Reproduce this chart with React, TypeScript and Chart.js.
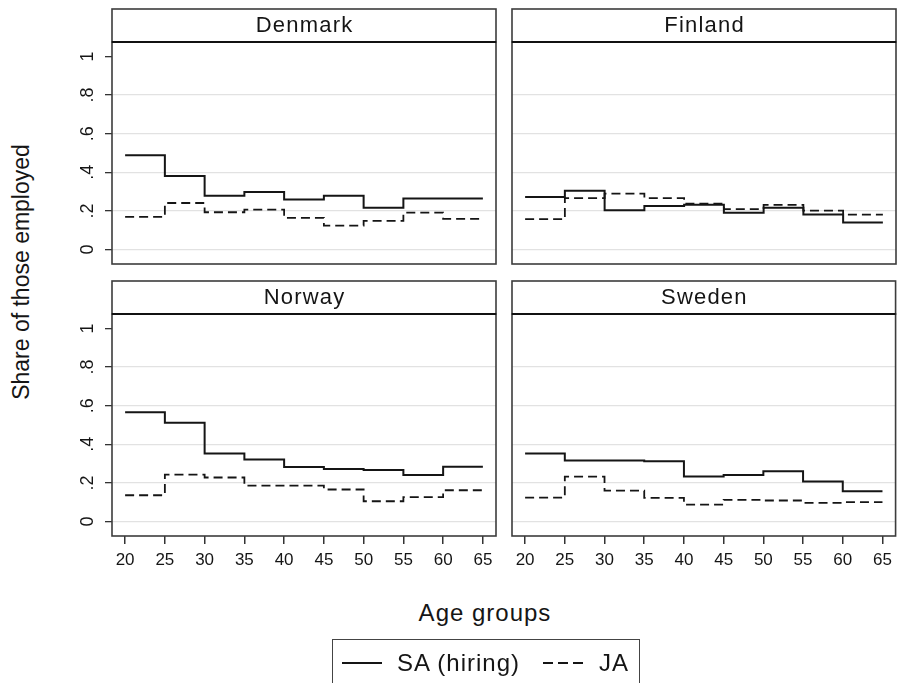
import React, { useEffect, useRef } from "react";
import { Chart, registerables } from "chart.js";

Chart.register(...registerables);

// Age groups: each value holds from its start age to the next start age
const ageStarts = [20, 25, 30, 35, 40, 45, 50, 55, 60];
const ageEnd = 65;
const xTicks = [20, 25, 30, 35, 40, 45, 50, 55, 60, 65];
const yTicks = [0, 0.2, 0.4, 0.6, 0.8, 1];
const yTickLabels = ["0", ".2", ".4", ".6", ".8", "1"];

// Share of those employed, by country
const denmarkSA = [0.488, 0.381, 0.279, 0.298, 0.259, 0.278, 0.216, 0.264, 0.264];
const denmarkJA = [0.169, 0.241, 0.193, 0.207, 0.164, 0.124, 0.148, 0.191, 0.159];
const finlandSA = [0.272, 0.305, 0.203, 0.226, 0.232, 0.19, 0.217, 0.181, 0.14];
const finlandJA = [0.157, 0.266, 0.29, 0.266, 0.238, 0.209, 0.231, 0.202, 0.181];
const norwaySA = [0.566, 0.512, 0.353, 0.321, 0.283, 0.272, 0.267, 0.241, 0.284];
const norwayJA = [0.136, 0.243, 0.228, 0.186, 0.186, 0.166, 0.105, 0.126, 0.162];
const swedenSA = [0.352, 0.316, 0.316, 0.312, 0.233, 0.241, 0.26, 0.207, 0.157];
const swedenJA = [0.124, 0.233, 0.16, 0.122, 0.088, 0.112, 0.109, 0.097, 0.1];

const FONT = '"Liberation Sans", Arial, Helvetica, sans-serif';
const INK = "#151515";

function stepPoints(values: number[]) {
  const pts = ageStarts.map((x, i) => ({ x, y: values[i] }));
  pts.push({ x: ageEnd, y: values[values.length - 1] });
  return pts;
}

// Draws the panel frame, the title strip above the plot area and,
// on the left-hand panels, the vertical y tick labels
const panelFrame = {
  id: "panelFrame",
  afterDraw(chart: any, _args: any, opts: any) {
    const { ctx, chartArea } = chart;
    const { left, top, right, bottom } = chartArea;
    const stripH = 33;
    ctx.save();
    ctx.strokeStyle = "#3c3c3c";
    ctx.lineWidth = 1.6;
    ctx.strokeRect(left, top, right - left, bottom - top);
    ctx.strokeRect(left, top - stripH, right - left, stripH);
    ctx.beginPath();
    ctx.strokeStyle = "#111";
    ctx.lineWidth = 2;
    ctx.moveTo(left, top);
    ctx.lineTo(right, top);
    ctx.stroke();
    ctx.fillStyle = INK;
    ctx.font = `22px ${FONT}`;
    ctx.textAlign = "center";
    ctx.textBaseline = "middle";
    try {
      (ctx as any).letterSpacing = "1.2px";
    } catch (e) {}
    ctx.fillText(opts.title, (left + right) / 2 + 0.6, top - stripH / 2);
    try {
      (ctx as any).letterSpacing = "0px";
    } catch (e) {}

    if (opts.showY) {
      const yScale = chart.scales.y;
      ctx.font = `18px ${FONT}`;
      yScale.ticks.forEach((t: any, i: number) => {
        const py = yScale.getPixelForValue(t.value);
        ctx.save();
        ctx.translate(left - 24, py);
        ctx.rotate(-Math.PI / 2);
        ctx.fillText(yTickLabels[i], 0, 0);
        ctx.restore();
      });
    }
    ctx.restore();
  },
};

type PanelProps = {
  title: string;
  sa: number[];
  ja: number[];
  showY: boolean;
  showX: boolean;
  left: number;
  top: number;
  width: number;
  height: number;
  padding: { top: number; right: number; bottom: number; left: number };
};

function Panel(p: PanelProps) {
  const ref = useRef<HTMLCanvasElement | null>(null);
  useEffect(() => {
    if (!ref.current) return;
    const chart = new Chart(ref.current, {
      type: "line",
      data: {
        datasets: [
          {
            label: "SA (hiring)",
            data: stepPoints(p.sa),
            stepped: true,
            borderColor: INK,
            borderWidth: 2,
            pointRadius: 0,
            fill: false,
          },
          {
            label: "JA",
            data: stepPoints(p.ja),
            stepped: true,
            borderColor: INK,
            borderWidth: 1.8,
            borderDash: [9, 5],
            pointRadius: 0,
            fill: false,
          },
        ],
      },
      options: {
        animation: false,
        responsive: false,
        maintainAspectRatio: false,
        layout: { padding: p.padding },
        plugins: {
          legend: { display: false },
          tooltip: { enabled: false },
          panelFrame: { title: p.title, showY: p.showY },
        } as any,
        scales: {
          x: {
            type: "linear",
            min: 18.35,
            max: 66.65,
            display: p.showX,
            afterBuildTicks: (s: any) => {
              s.ticks = xTicks.map((v) => ({ value: v }));
            },
            afterFit: (s: any) => {
              s.height = p.showX ? 39 : 0;
            },
            ticks: {
              autoSkip: false,
              maxRotation: 0,
              padding: 6,
              color: INK,
              font: { family: FONT, size: 17 },
              callback: (v: any) => String(v),
            },
            grid: {
              drawOnChartArea: false,
              drawTicks: true,
              tickLength: 8,
              color: "#333",
              lineWidth: 1.5,
            },
            border: { display: false },
          },
          y: {
            type: "linear",
            min: -0.075,
            max: 1.075,
            afterBuildTicks: (s: any) => {
              s.ticks = yTicks.map((v) => ({ value: v }));
            },
            afterFit: (s: any) => {
              s.width = p.showY ? 52 : 0;
            },
            ticks: {
              display: false,
              callback: (_v: any, i: number) => yTickLabels[i],
            },
            grid: {
              drawTicks: p.showY,
              tickLength: 7,
              lineWidth: 1.3,
              color: (c: any) =>
                c.tick && c.tick.value === 1 ? "rgba(0,0,0,0)" : "#e2e2e2",
              tickColor: "#333",
            },
            border: { display: false },
          },
        },
      },
      plugins: [panelFrame],
    } as any);
    return () => chart.destroy();
  }, []);
  return (
    <canvas
      ref={ref}
      width={p.width}
      height={p.height}
      style={{ position: "absolute", left: p.left, top: p.top, width: p.width, height: p.height }}
    />
  );
}

export default function App() {
  const text: React.CSSProperties = {
    position: "absolute",
    fontFamily: FONT,
    color: INK,
    whiteSpace: "nowrap",
    lineHeight: 1,
  };
  return (
    <div
      style={{
        position: "absolute",
        left: 0,
        top: 0,
        width: 898,
        height: 683,
        overflow: "hidden",
        background: "#fff",
      }}
    >
      <Panel
        title="Denmark"
        sa={denmarkSA}
        ja={denmarkJA}
        showY={true}
        showX={false}
        left={60}
        top={0}
        width={440}
        height={270}
        padding={{ top: 42, right: 4, bottom: 6, left: 0 }}
      />
      <Panel
        title="Finland"
        sa={finlandSA}
        ja={finlandJA}
        showY={false}
        showX={false}
        left={508}
        top={0}
        width={390}
        height={270}
        padding={{ top: 42, right: 2, bottom: 6, left: 4 }}
      />
      <Panel
        title="Norway"
        sa={norwaySA}
        ja={norwayJA}
        showY={true}
        showX={true}
        left={60}
        top={275}
        width={440}
        height={300}
        padding={{ top: 39, right: 4, bottom: 0, left: 0 }}
      />
      <Panel
        title="Sweden"
        sa={swedenSA}
        ja={swedenJA}
        showY={false}
        showX={true}
        left={508}
        top={275}
        width={390}
        height={300}
        padding={{ top: 39, right: 2, bottom: 0, left: 4 }}
      />

      <div
        style={{
          ...text,
          fontSize: 23,
          left: 21,
          top: 272,
          transform: "translate(-50%, -50%) rotate(-90deg)",
        }}
      >
        Share of those employed
      </div>

      <div
        style={{
          ...text,
          fontSize: 24,
          letterSpacing: "1px",
          left: 485,
          top: 613,
          transform: "translate(-50%, -50%)",
        }}
      >
        Age groups
      </div>

      <div
        style={{
          position: "absolute",
          left: 332,
          top: 639,
          width: 306,
          height: 70,
          border: "1.6px solid #444",
        }}
      />
      <svg
        width={898}
        height={683}
        style={{ position: "absolute", left: 0, top: 0 }}
      >
        <line x1={342} y1={663} x2={382} y2={663} stroke={INK} strokeWidth={2} />
        <line
          x1={543}
          y1={663}
          x2={583}
          y2={663}
          stroke={INK}
          strokeWidth={1.8}
          strokeDasharray="10 5"
        />
      </svg>
      <div
        style={{
          ...text,
          fontSize: 24,
          letterSpacing: "1px",
          left: 397,
          top: 663,
          transform: "translateY(-50%)",
        }}
      >
        SA (hiring)
      </div>
      <div
        style={{
          ...text,
          fontSize: 24,
          letterSpacing: "1px",
          left: 599,
          top: 663,
          transform: "translateY(-50%)",
        }}
      >
        JA
      </div>
    </div>
  );
}
